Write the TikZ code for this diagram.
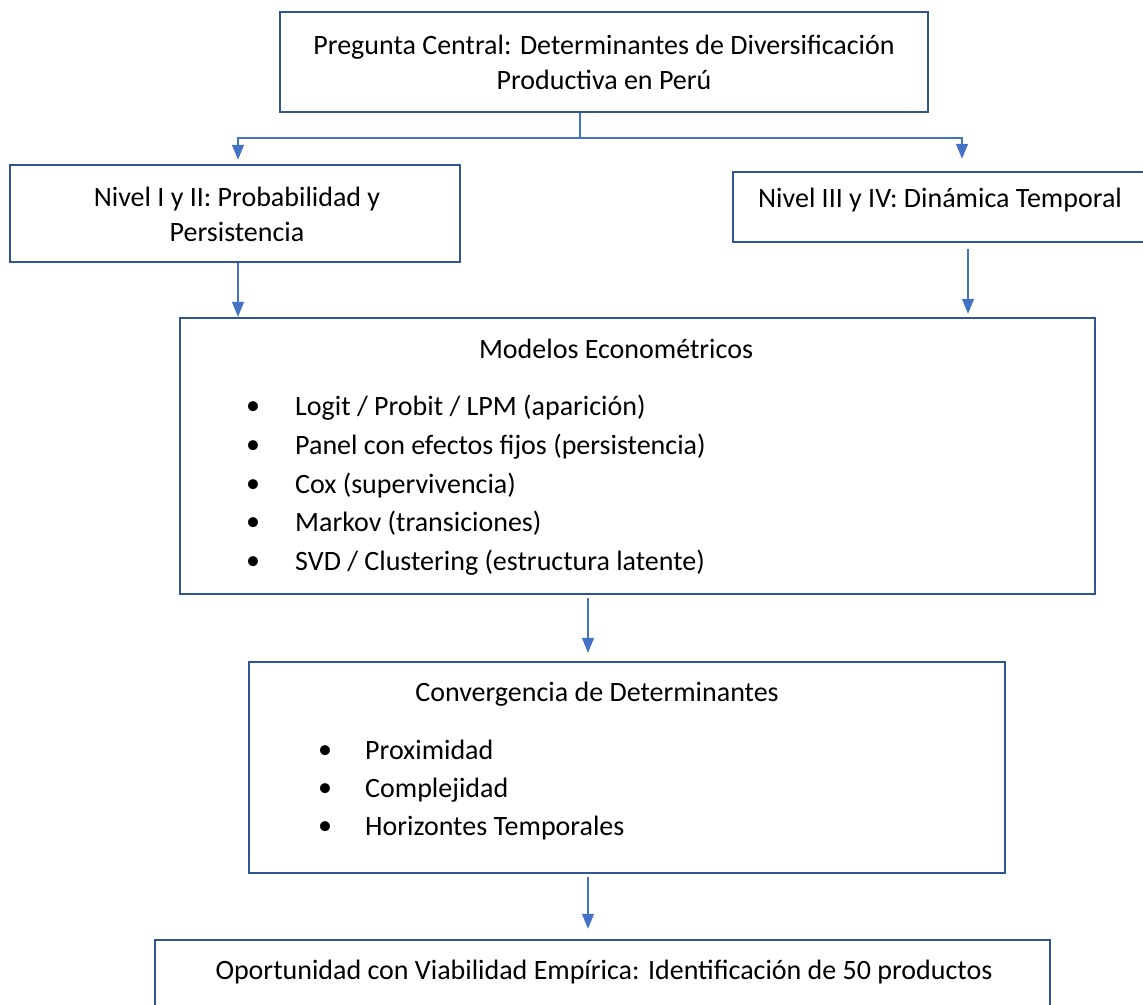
\documentclass[tikz,border=0pt]{standalone}
\usepackage{fontspec}
\setmainfont{Carlito}
\usetikzlibrary{arrows.meta}
\definecolor{boxblue}{HTML}{2F5597}
\definecolor{linkblue}{HTML}{4472C4}
\begin{document}
\begin{tikzpicture}[x=1pt,y=-1pt,
  box/.style={draw=boxblue, line width=2.4pt, inner sep=0pt},
  lbl/.style={font=\fontsize{28}{35}\selectfont, align=center, inner sep=0pt},
  item/.style={font=\fontsize{28}{35}\selectfont, anchor=west, inner sep=0pt, text height=20pt, text depth=6pt},
  bul/.style={font=\fontsize{28}{35}\selectfont, anchor=center, inner sep=0pt},
  link/.style={draw=linkblue, line width=1.3pt, -{Triangle[length=15pt,width=12pt]}},
  ]
\useasboundingbox (0,0) rectangle (1143,1004);
\clip (0,0) rectangle (1143,1004);

% boxes
\node[box, minimum width=648pt, minimum height=100pt] (q) at (604,62) {};
\node[box, minimum width=450pt, minimum height=97pt] (l) at (235,213.5) {};
\node[box, minimum width=430pt, minimum height=70pt] (r) at (948,207) {};
\node[box, minimum width=915pt, minimum height=276pt] (m) at (637.5,456) {};
\node[box, minimum width=756pt, minimum height=211pt] (c) at (627,767.5) {};
\node[box, minimum width=895pt, minimum height=140pt] (b) at (602.5,1010) {};

% texts
\node[lbl] (qt) at (604,62) {Pregunta Central: Determinantes de Diversificación\\Productiva en Perú};
\node[lbl] (lt) at (237,214) {Nivel I y II: Probabilidad y\\Persistencia};
\node[lbl] (rt) at (940,200) {Nivel III y IV: Dinámica Temporal};
\node[lbl] (mt) at (616,349) {Modelos Econométricos};
\node[bul] (mb1) at (253,408) {•};
\node[bul] (mb2) at (253,447) {•};
\node[bul] (mb3) at (253,486) {•};
\node[bul] (mb4) at (253,524) {•};
\node[bul] (mb5) at (253,563) {•};
\node[item] (mi1) at (295,408) {Logit / Probit / LPM (aparición)};
\node[item] (mi2) at (295,447) {Panel con efectos fijos (persistencia)};
\node[item] (mi3) at (295,486) {Cox (supervivencia)};
\node[item] (mi4) at (295,524) {Markov (transiciones)};
\node[item] (mi5) at (295,563) {SVD / Clustering (estructura latente)};
\node[lbl] (ct) at (597,694) {Convergencia de Determinantes};
\node[bul] (cb1) at (325,752) {•};
\node[bul] (cb2) at (325,790) {•};
\node[bul] (cb3) at (325,828) {•};
\node[item] (ci1) at (365,752) {Proximidad};
\node[item] (ci2) at (365,790) {Complejidad};
\node[item] (ci3) at (365,828) {Horizontes Temporales};
\node[lbl] (bt) at (604,972) {Oportunidad con Viabilidad Empírica: Identificación de 50 productos};

% connector guide coordinates
\coordinate (sx) at (580,0);
\coordinate (j) at (580,138);
\coordinate (la) at (238,0);
\coordinate (ra) at (962,0);
\coordinate (rb) at (968,0);
\coordinate (cx) at (588,0);

\draw[link, shorten >=4pt] (q.south -| sx) -- (j) -| (l.north -| la);
\draw[link, shorten >=12pt] (j) -| (r.north -| ra);
\draw[link] (l.south -| la) -- (m.north -| la);
\draw[link, shorten <=6pt, shorten >=3pt] (r.south -| rb) -- (m.north -| rb);
\draw[link, shorten <=3pt, shorten >=8pt] (m.south -| cx) -- (c.north -| cx);
\draw[link, shorten <=3pt, shorten >=10pt] (c.south -| cx) -- (b.north -| cx);
\end{tikzpicture}
\end{document}
